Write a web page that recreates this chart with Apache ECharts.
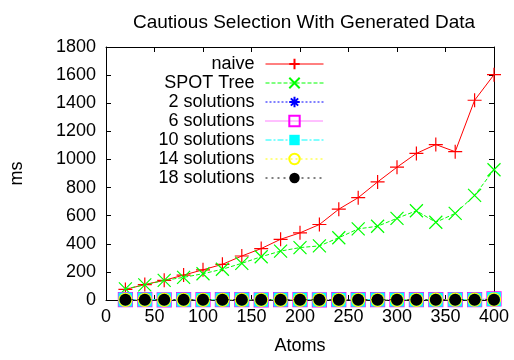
<!DOCTYPE html>
<html>
<head>
<meta charset="utf-8">
<script src="https://cdn.jsdelivr.net/npm/echarts@6/dist/echarts.min.js"></script>
<style>html,body{margin:0;padding:0;background:#fff}#c{width:514px;height:360px}</style>
</head>
<body>
<div id="c"></div>
<script>
var atoms = [20,40,60,80,100,120,140,160,180,200,220,240,260,280,300,320,340,360,380,400];
var naive = [75,110,140,177,215,254,313,366,432,478,537,646,728,840,945,1043,1106,1055,1421,1603];
var spotTree = [79,108,140,161,187,219,261,308,348,373,385,443,506,525,581,635,553,616,744,927];
var sol2 = [1,1,1,1,1,1,1,1,1,1,1,2,2,2,2,2,2,3,3,4];
var sol6 = [2,2,1,3,3,2,2,1,2,2,1,3,3,2,2,3,3,2,3,8];
var sol10 = [3,3,2,2,2,3,3,2,3,3,2,2,2,3,3,2,2,3,2,6];
var sol14 = [1,1,1,1,1,1,1,1,1,1,1,1,1,1,1,1,2,2,2,3];
var sol18 = [1,1,1,1,1,1,1,1,1,1,1,1,1,1,1,1,1,1,1,2];
var seriesNames = ['naive','SPOT Tree','2 solutions','6 solutions','10 solutions','14 solutions','18 solutions'];
var xTicks = [0,50,100,150,200,250,300,350,400];
var yTicks = [0,200,400,600,800,1000,1200,1400,1600,1800];

var FONT = 'Liberation Sans';
var PLUS = 'path://M10,0L10,20M0,10L20,10';
var CROSS = 'path://M0,0L20,20M20,0L0,20';
var STAR = 'path://M10,0L10,20M0,10L20,10M3,3L17,17M17,3L3,17';

function pairs(ys){ return atoms.map(function(x,i){ return [x, ys[i]]; }); }

var specs = [
  {data: naive, color:'#ff0000', dash:'solid', symbol: PLUS, size:14, stroke:true},
  {data: spotTree, color:'#00ff00', dash:[4,2], symbol: CROSS, size:13, stroke:true},
  {data: sol2, color:'#0000ff', dash:[2,2], symbol: STAR, size:13, stroke:true},
  {data: sol6, color:'#ff00ff', dash:[1,1], symbol:'rect', size:14, stroke:false, hollow:true},
  {data: sol10, color:'#00ffff', dash:[6,2,2,2], symbol:'rect', size:14, stroke:false},
  {data: sol14, color:'#ffff00', dash:[2,3], symbol:'circle', size:13, stroke:false, hollow:true},
  {data: sol18, color:'#000000', dash:[2,4], symbol:'circle', size:12, stroke:false}
];

var series = specs.map(function(s, i){
  var itemStyle;
  if (s.stroke) itemStyle = {color: s.color, borderColor: s.color, borderWidth: 1.2};
  else if (s.hollow) itemStyle = {color: 'rgba(0,0,0,0)', borderColor: s.color, borderWidth: 1.2};
  else itemStyle = {color: s.color, borderWidth: 0};
  return {
    name: seriesNames[i], type:'line', data: pairs(s.data),
    symbol: s.symbol, symbolSize: s.size, showAllSymbol: true,
    lineStyle: {color: s.color, width: 1, type: s.dash},
    itemStyle: itemStyle,
    emphasis: {disabled: true},
    animation: false, z: 2 + i
  };
});

var rowCenters = [62,81,100,119,138,157,176];
var legends = seriesNames.map(function(n, i){
  var s = specs[i];
  return {
    data: [{name: n, lineStyle: {width: 1, type: s.dash, color: s.color}}],
    orient:'vertical', right: 185, top: rowCenters[i] - 12, align:'right',
    itemWidth: 58, itemHeight: 13, selectedMode: false,
    textStyle: {fontFamily: FONT, fontSize: 18, color:'#000', padding:[0,6,0,0]}
  };
});

var axisCommon = {
  type:'value', min:0,
  axisLine: {show:true, onZero:false, lineStyle:{color:'#000', width:1}},
  axisTick: {show:true, inside:true, length:5, lineStyle:{color:'#000'}},
  splitLine: {show:false}
};
function plain(v){ return String(v); }

var option = {
  backgroundColor:'#fff',
  animation:false,
  title: {text:'Cautious Selection With Generated Data', left: 299, top: 8, textAlign:'center',
    textStyle:{fontFamily: FONT, fontSize: 19, fontWeight:'normal', color:'#000'}},
  legend: legends,
  grid: {left: 104.5, right: 20, top: 47, bottom: 56, containLabel:false},
  xAxis: [
    Object.assign({}, axisCommon, {max:400, interval:50, position:'bottom',
      name:'Atoms', nameLocation:'middle', nameGap: 37,
      nameTextStyle:{fontFamily: FONT, fontSize:18, color:'#000'},
      axisLabel:{fontFamily: FONT, fontSize:18, color:'#000', margin:8, formatter: plain}}),
    Object.assign({}, axisCommon, {max:400, interval:50, position:'top', axisLabel:{show:false}})
  ],
  yAxis: [
    Object.assign({}, axisCommon, {max:1800, interval:200, position:'left',
      name:'ms', nameLocation:'middle', nameGap: 80, nameRotate: 90,
      nameTextStyle:{fontFamily: FONT, fontSize:18, color:'#000'},
      axisLabel:{fontFamily: FONT, fontSize:18, color:'#000', margin:10, formatter: plain}}),
    Object.assign({}, axisCommon, {max:1800, interval:200, position:'right', axisLabel:{show:false}})
  ],
  series: series
};

var chart = echarts.init(document.getElementById('c'), null, {renderer:'canvas'});
chart.setOption(option);
</script>
</body>
</html>
